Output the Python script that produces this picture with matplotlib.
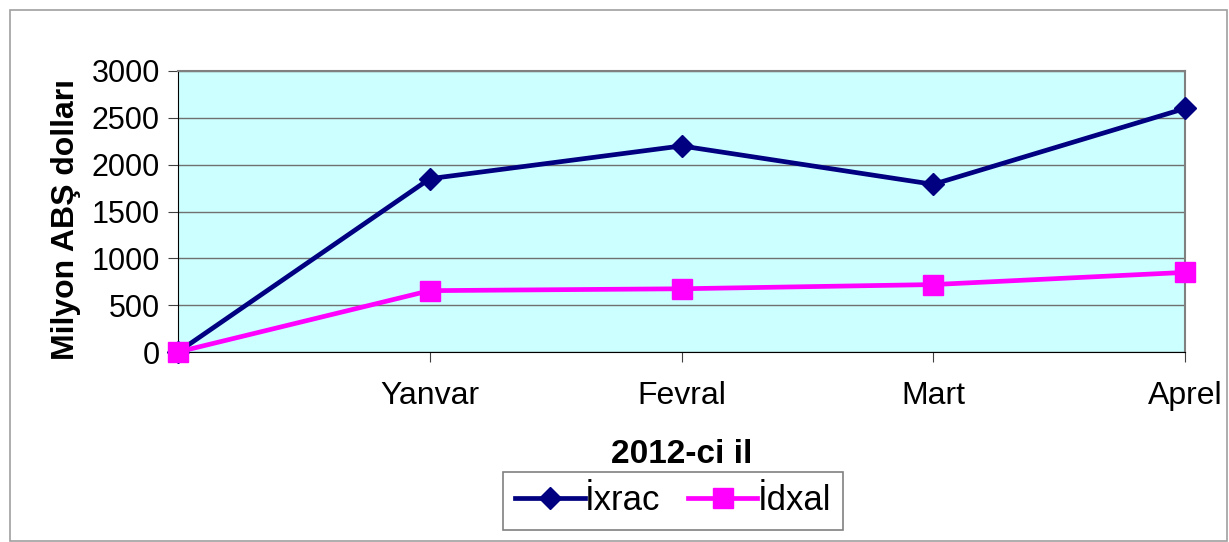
import matplotlib.pyplot as plt
from matplotlib.patches import Rectangle

plt.rcParams['font.family'] = ['Liberation Sans', 'DejaVu Sans']

months = ["", "Yanvar", "Fevral", "Mart", "Aprel"]
ixrac = [0, 1850, 2200, 1790, 2600]
idxal = [0, 655, 675, 720, 850]

fig = plt.figure(figsize=(12.29, 5.42), dpi=100)
ax = fig.add_axes([178 / 1229, 1 - 352 / 542, (1185 - 178) / 1229, (352 - 71) / 542])

# outer chart frame
fig.patches.append(Rectangle((10 / 1229, 0.002), 1 - 10 / 1229 - 0.002, 1 - 10 / 542 - 0.002,
                             transform=fig.transFigure, fill=False,
                             edgecolor="#a0a0a0", linewidth=1.2))

ax.set_facecolor("#ccffff")
x = list(range(len(months)))
ax.plot(x, ixrac, color="#000080", linewidth=3.4, marker="D", markersize=11,
        label="İxrac", clip_on=False, zorder=3)
ax.plot(x, idxal, color="#ff00ff", linewidth=3.4, marker="s", markersize=14,
        label="İdxal", clip_on=False, zorder=3)

ax.set_xlim(0, 4)
ax.set_ylim(0, 3000)
ax.set_yticks(range(0, 3001, 500))
ax.set_xticks(x)
ax.set_xticklabels(months)
ax.yaxis.grid(True, color="#707070", linewidth=1)
ax.set_axisbelow(True)

for s in ["top", "right"]:
    ax.spines[s].set_color("#808080")
    ax.spines[s].set_linewidth(1.5)
ax.spines["left"].set_color("black")
ax.spines["bottom"].set_color("black")

ax.tick_params(axis="x", labelsize=23, length=7, color="#404040", pad=14)
ax.tick_params(axis="y", labelsize=22, length=7, color="#404040", pad=6)

ax.set_ylabel("Milyon ABŞ dolları", fontsize=23, fontweight="bold")
ax.yaxis.set_label_coords(-0.096, 0.47)
ax.set_xlabel("2012-ci il", fontsize=24, fontweight="bold", labelpad=20)

leg = fig.legend(loc="center", bbox_to_anchor=(673 / 1229, 1 - 501 / 542), ncol=2,
                 fontsize=25, frameon=True, fancybox=False, edgecolor="#606060",
                 handlelength=2.0, handletextpad=0.0, columnspacing=0.8,
                 borderpad=0.35, borderaxespad=0)
leg.get_frame().set_linewidth(1.2)

fig.savefig("out.png", dpi=100)
